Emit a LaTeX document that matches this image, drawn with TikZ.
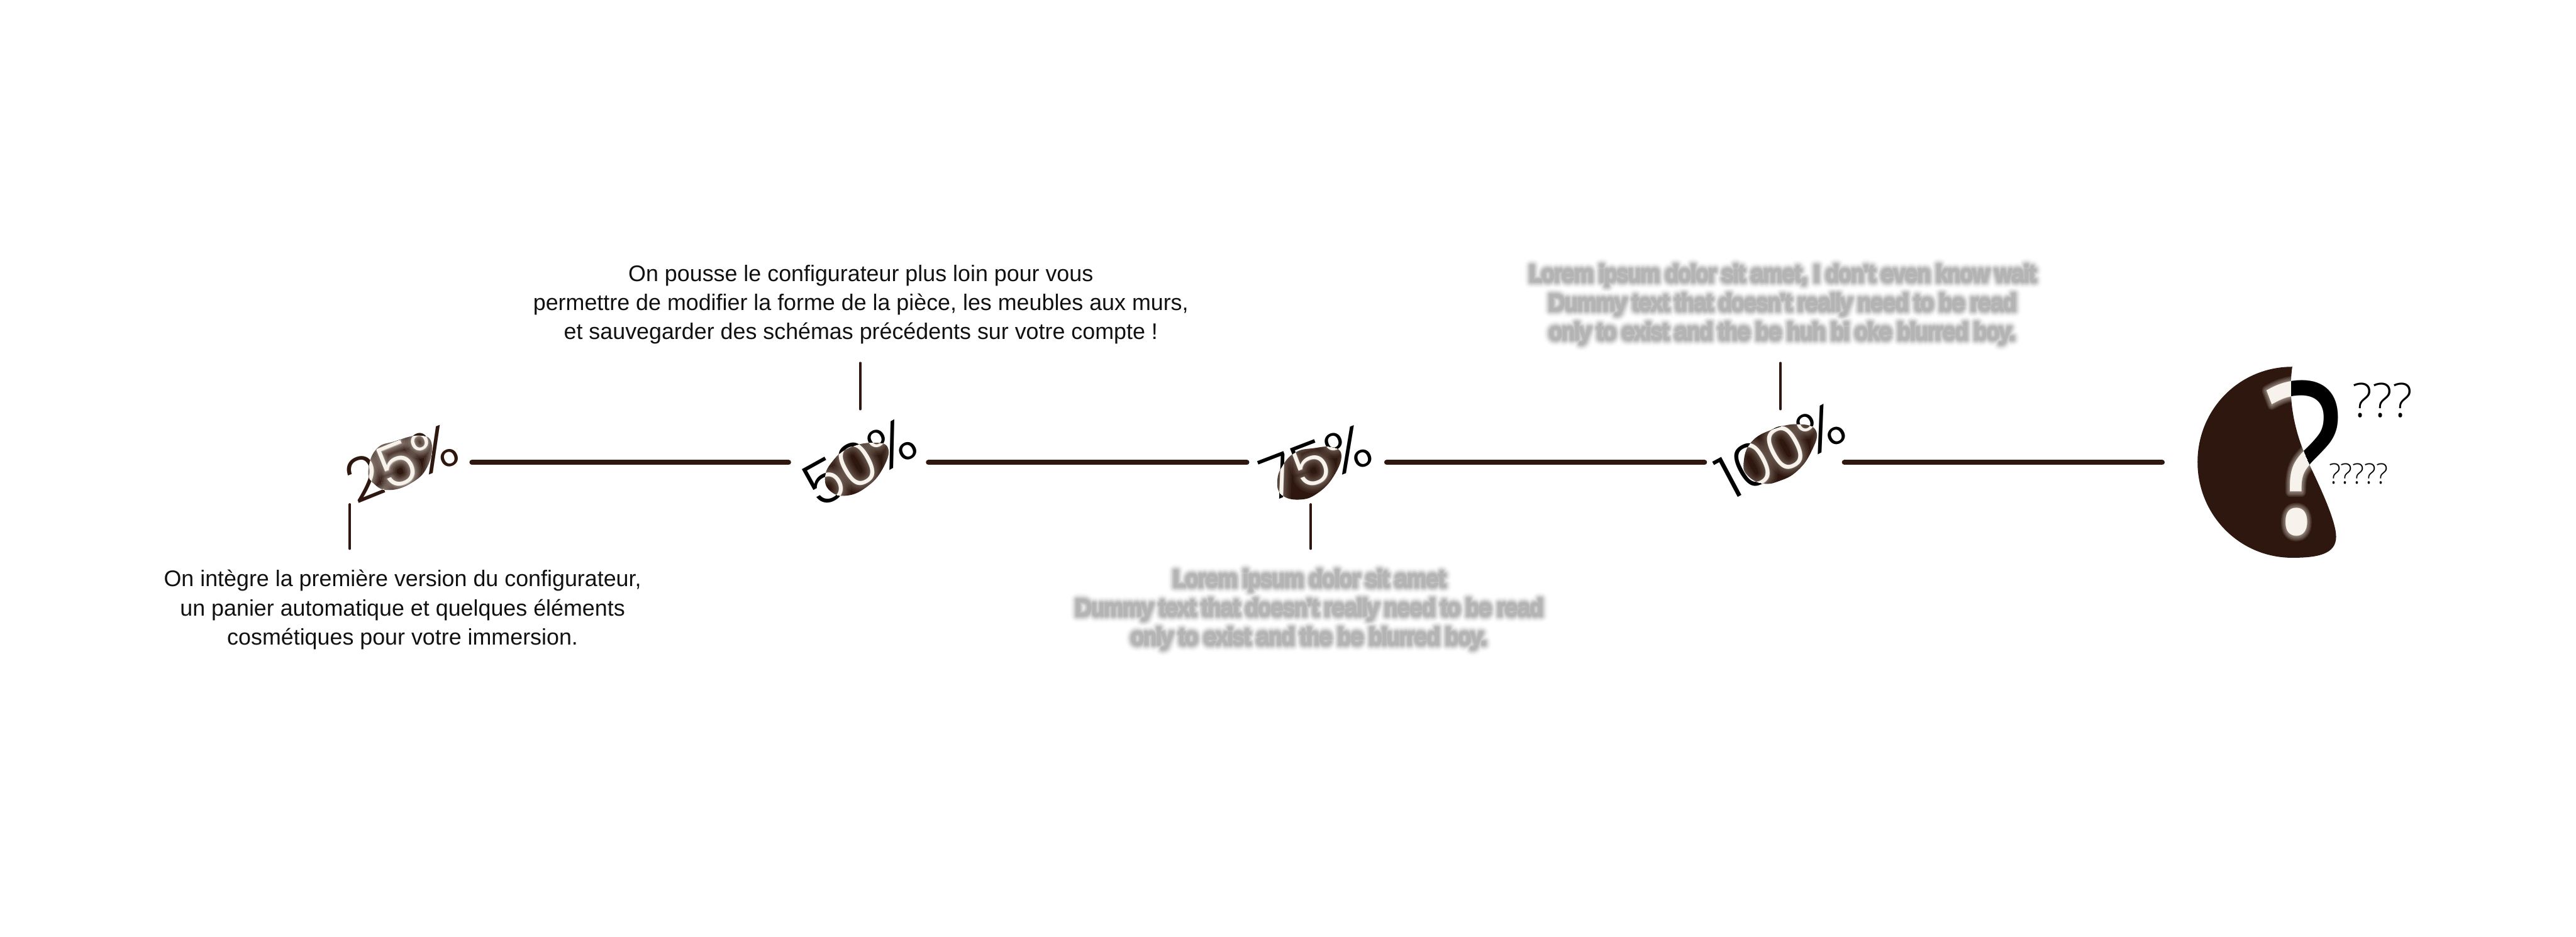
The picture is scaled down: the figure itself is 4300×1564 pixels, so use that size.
\documentclass[tikz,border=0pt]{standalone}
\usepackage{fontspec}
\setmainfont{Liberation Sans}
\newfontfamily\pctfont{Poppins Light}
\newfontfamily\qfont{Open Sans}
\newfontfamily\qlight{Open Sans Light}
\definecolor{bean}{HTML}{2E170E}
\definecolor{cream}{HTML}{F7F3EC}
\definecolor{ink}{HTML}{111111}
\newcommand{\capfont}{\fontsize{10.7}{13.75}\selectfont}
\tikzset{
  x=0.01cm,y=-0.01cm,
  rail/.style={draw=bean,line width=0.085cm,line cap=round},
  tick/.style={draw=bean,line width=0.04cm,line cap=round},
  anchorring/.style={circle,minimum size=2.32cm,inner sep=0pt},
  caption/.style={align=center,text=ink,font=\capfont,inner xsep=0pt},
  pct/.style={font=\pctfont\fontsize{28.5}{28.5}\selectfont,inner sep=0pt},
  bigmark/.style={inner sep=0pt,xscale=.87,transform shape},
  zoomed/.style={x=0.003333cm,y=-0.003333cm},
}
\newcommand{\softlabel}[5]{% position, rotation, size, text, glow opacity
  \foreach \e in {3,6,10,14,19,25}{
    \node[rotate=#2,inner sep=0pt,text=cream,text opacity=#5] at #1
      {\pctfont\fontsize{#3}{#3}\selectfont\addfontfeatures{FakeBold=\e}#4};
  }
  \node[rotate=#2,inner sep=0pt,text=cream] at #1 {\pctfont\fontsize{#3}{#3}\selectfont #4};
}
\newcommand{\milestone}[9]{% name, ring centre, label centre, rotation, outer colour, text, zoom origin, blob points, glow
  \node[anchorring] (m#1) at #2 {};
  \coordinate (c#1) at #3;
  \node[pct,rotate=#4,text=#5] (p#1) at (c#1) {#6};
  \begin{scope}[shift={#7},zoomed,line join=round]
    \fill[bean] plot[smooth cycle,tension=.75] coordinates {#8};
    \clip plot[smooth cycle,tension=.75] coordinates {#8};
    \softlabel{(c#1)}{#4}{28.5}{#6}{#9}
  \end{scope}
}
\newcommand{\blurred}[3]{% name, placement options, lines
  \foreach \e/\o in {6/.05,14/.06,22/.06,30/.05,38/.04,46/.03,54/.02}{
    \begin{scope}[transparency group,opacity=\o]
      \path (0,0) rectangle (4300,1564);
      \begin{scope}[line join=round]
        \node[caption,#2,text=black,font={\capfont\addfontfeatures{FakeBold=\e}}] {#3};
      \end{scope}
    \end{scope}
  }
  \begin{scope}[transparency group,opacity=.015]
    \path (0,0) rectangle (4300,1564);
    \begin{scope}[line join=round]
      \node[caption,#2,text=black,font={\capfont\addfontfeatures{FakeBold=64}}] (#1) {#3};
    \end{scope}
  \end{scope}
}
\begin{document}
\begin{tikzpicture}
\useasboundingbox (0,0) rectangle (4300,1564);
\fill[white] (0,0) rectangle (4300,1564);

\milestone{25}{(671,772)}{(670,773)}{22}{bean}{25\%}{(500,640)}{(345,440) (385,330) (480,290) (600,262) (662,300) (640,420) (560,500) (450,535) (375,505)}{.09}
\milestone{50}{(1433,772)}{(1435,772)}{29}{black}{50\%}{(1300,640)}{(232,470) (270,390) (350,325) (470,298) (548,325) (520,430) (440,520) (340,563) (258,540)}{.055}
\milestone{75}{(2198,772)}{(2197,772)}{21}{black}{75\%}{(2060,640)}{(217,490) (245,410) (310,345) (400,325) (490,320) (538,360) (500,465) (420,550) (330,583) (240,560)}{.05}
\milestone{100}{(2962,772)}{(2972,752)}{28}{black}{100\%}{(2820,640)}{(272,400) (310,295) (420,230) (550,205) (636,240) (610,345) (540,440) (450,490) (370,502) (295,465)}{.05}

\node[anchorring] (mq) at (3726,772) {};
\draw[rail] (m25.east) -- (m50.west);
\draw[rail] (m50.east) -- (m75.west);
\draw[rail] (m75.east) -- (m100.west);
\draw[rail] (m100.east) -- (mq.west);

% captions and their ticks
\node[caption,anchor=north,inner ysep=0.35cm] (t25) at (672,916) {On intègre la première version du configurateur,\\un panier automatique et quelques éléments\\cosmétiques pour votre immersion.};
\node[caption,anchor=south,inner ysep=0.31cm] (t50) at (1437,606) {On pousse le configurateur plus loin pour vous\\permettre de modifier la forme de la pièce, les meubles aux murs,\\et sauvegarder des schémas précédents sur votre compte !};
\blurred{t75}{anchor=north,inner ysep=0.35cm,at={(2185,916)}}{Lorem ipsum dolor sit amet\\Dummy text that doesn't really need to be read\\only to exist and the be blurred boy.}
\blurred{t100}{anchor=south,inner ysep=0.31cm,at={(2975,606)}}{Lorem ipsum dolor sit amet, I don't even know wait\\Dummy text that doesn't really need to be read\\only to exist and the be huh bi oke blurred boy.}
\coordinate (k25) at (584,842);
\coordinate (k50) at (1436,683);
\coordinate (k75) at (2188,842);
\coordinate (k100) at (2972,683);
\draw[tick] (k25) -- (k25 |- t25.north);
\draw[tick] (k50) -- (k50 |- t50.south);
\draw[tick] (k75) -- (k75 |- t75.north);
\draw[tick] (k100) -- (k100 |- t100.south);

% final unknown stage
\coordinate (cq) at (3845,765);
\node[bigmark,text=black,font=\qfont\fontsize{100}{100}\selectfont] (bigq) at (cq) {?};
\begin{scope}[shift={(3600,580)},zoomed,line join=round]
  \def\qblob{(680,97) .. controls (415,97) and (205,310) .. (205,575) .. controls (205,840) and (415,1055) .. (680,1055) .. controls (800,1055) and (900,1040) .. (900,950) .. controls (900,870) and (820,700) .. (755,565) .. controls (700,440) and (655,280) .. (680,97) -- cycle}
  \fill[bean] \qblob;
  \clip \qblob;
  \foreach \e in {1,2,3,4,5}{
    \node[bigmark,text=cream,text opacity=.11] at (cq) {\qfont\fontsize{100}{100}\selectfont\addfontfeatures{FakeBold=\e}?};
  }
  \node[bigmark,text=cream] at (cq) {\qfont\fontsize{100}{100}\selectfont ?};
\end{scope}
\node[inner sep=0pt,font=\qlight\fontsize{22.5}{22.5}\selectfont] (q3) at (3977,668) {???};
\node[inner sep=0pt,font=\qlight\fontsize{13.4}{13.4}\selectfont] (q5) at (3937,791) {?????};
\end{tikzpicture}
\end{document}
